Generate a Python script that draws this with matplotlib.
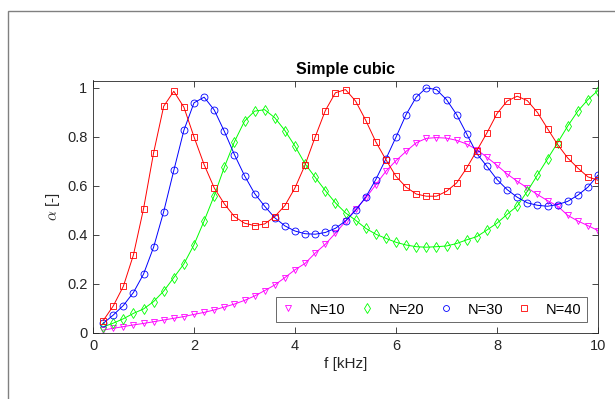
import matplotlib
matplotlib.use('Agg')
import matplotlib.pyplot as plt
from matplotlib.patches import Rectangle

# frequency grid (kHz)
freq = [0.2, 0.4, 0.6, 0.8, 1.0, 1.2, 1.4, 1.6, 1.8, 2.0,
        2.2, 2.4, 2.6, 2.8, 3.0, 3.2, 3.4, 3.6, 3.8, 4.0,
        4.2, 4.4, 4.6, 4.8, 5.0, 5.2, 5.4, 5.6, 5.8, 6.0,
        6.2, 6.4, 6.6, 6.8, 7.0, 7.2, 7.4, 7.6, 7.8, 8.0,
        8.2, 8.4, 8.6, 8.8, 9.0, 9.2, 9.4, 9.6, 9.8, 10.0]

# absorption coefficient for each N
alpha_n10 = [0.012, 0.019, 0.026, 0.033, 0.039, 0.046, 0.053, 0.060, 0.067, 0.076,
             0.084, 0.094, 0.106, 0.118, 0.133, 0.151, 0.173, 0.196, 0.226, 0.258,
             0.284, 0.326, 0.362, 0.407, 0.455, 0.505, 0.550, 0.605, 0.660, 0.703,
             0.741, 0.776, 0.794, 0.797, 0.795, 0.786, 0.771, 0.748, 0.717, 0.684,
             0.649, 0.619, 0.592, 0.565, 0.540, 0.518, 0.480, 0.457, 0.438, 0.418]
alpha_n20 = [0.025, 0.040, 0.058, 0.080, 0.098, 0.128, 0.171, 0.226, 0.282, 0.360,
             0.457, 0.560, 0.676, 0.780, 0.864, 0.905, 0.911, 0.878, 0.826, 0.762,
             0.690, 0.635, 0.581, 0.531, 0.490, 0.460, 0.427, 0.403, 0.386, 0.370,
             0.359, 0.352, 0.350, 0.352, 0.355, 0.365, 0.380, 0.393, 0.420, 0.448,
             0.484, 0.518, 0.578, 0.644, 0.710, 0.776, 0.844, 0.905, 0.952, 0.989]
alpha_n30 = [0.039, 0.073, 0.112, 0.165, 0.240, 0.350, 0.495, 0.663, 0.827, 0.939,
             0.962, 0.910, 0.823, 0.728, 0.642, 0.569, 0.517, 0.470, 0.437, 0.416,
             0.405, 0.403, 0.410, 0.427, 0.457, 0.500, 0.554, 0.626, 0.710, 0.799,
             0.891, 0.962, 1.000, 0.993, 0.952, 0.891, 0.812, 0.732, 0.680, 0.626,
             0.585, 0.554, 0.531, 0.521, 0.517, 0.524, 0.537, 0.562, 0.595, 0.644]
alpha_n40 = [0.050, 0.110, 0.190, 0.318, 0.506, 0.735, 0.925, 0.986, 0.921, 0.800,
             0.687, 0.592, 0.527, 0.475, 0.448, 0.438, 0.445, 0.475, 0.520, 0.592,
             0.686, 0.800, 0.907, 0.980, 0.993, 0.946, 0.868, 0.780, 0.707, 0.639,
             0.595, 0.567, 0.558, 0.558, 0.578, 0.612, 0.673, 0.744, 0.816, 0.895,
             0.946, 0.966, 0.948, 0.900, 0.834, 0.769, 0.714, 0.673, 0.637, 0.623]

labels = ['N=10', 'N=20', 'N=30', 'N=40']
series = [alpha_n10, alpha_n20, alpha_n30, alpha_n40]
colors = ['#ff00ff', '#00ff00', '#0000ff', '#ff0000']
markers = ['v', 'd', 'o', 's']
msizes = [5, 5.5, 5, 4.3]

plt.rcParams['font.family'] = ['Liberation Sans', 'DejaVu Sans']
plt.rcParams['mathtext.fontset'] = 'cm'

fig = plt.figure(figsize=(6.15, 3.99), dpi=100)
# grey frame around the figure
fig.patches.append(Rectangle((8 / 615, -0.2), 1.2, 1.2 - 11 / 399,
                             transform=fig.transFigure, fill=False,
                             edgecolor='#808080', linewidth=1.0))

ax = fig.add_axes([93 / 615, 1 - 333 / 399, 505 / 615, 252.5 / 399])
axis_color = '#262626'

for vals, c, m, ms, lab in zip(series, colors, markers, msizes, labels):
    ax.plot(freq, vals, '-', color=c, linewidth=0.7)
    ax.plot(freq, vals, linestyle='none', marker=m, markersize=ms,
            markerfacecolor='none', markeredgecolor=c, markeredgewidth=0.6, label=lab)

ax.set_xlim(0, 10)
ax.set_ylim(0, 1.03)
ax.set_xticks([0, 2, 4, 6, 8, 10])
ax.set_yticks([0, 0.2, 0.4, 0.6, 0.8, 1])
ax.set_yticklabels(['0', '0.2', '0.4', '0.6', '0.8', '1'])
ax.tick_params(direction='in', top=True, right=True, labelsize=10.5,
               colors=axis_color, length=4, width=0.6, pad=4)
for s in ax.spines.values():
    s.set_color(axis_color)
    s.set_linewidth(0.6)

ax.set_title('Simple cubic', fontsize=11.5, fontweight='bold', pad=5, color='black')
ax.set_xlabel('f [kHz]', fontsize=11, color=axis_color, labelpad=3)
ax.set_ylabel(r'$\alpha$ [-]', fontsize=11, color=axis_color, labelpad=4)

leg = ax.legend(loc='lower right', bbox_to_anchor=(0.978, 0.045), borderaxespad=0,
                ncol=4, fontsize=10.5, frameon=True, fancybox=False,
                handlelength=1.0, handletextpad=1.0, columnspacing=0.95,
                borderpad=0.35, markerscale=0.85)
leg.get_frame().set_edgecolor(axis_color)
leg.get_frame().set_linewidth(0.6)

fig.savefig('out.png', dpi=100)
